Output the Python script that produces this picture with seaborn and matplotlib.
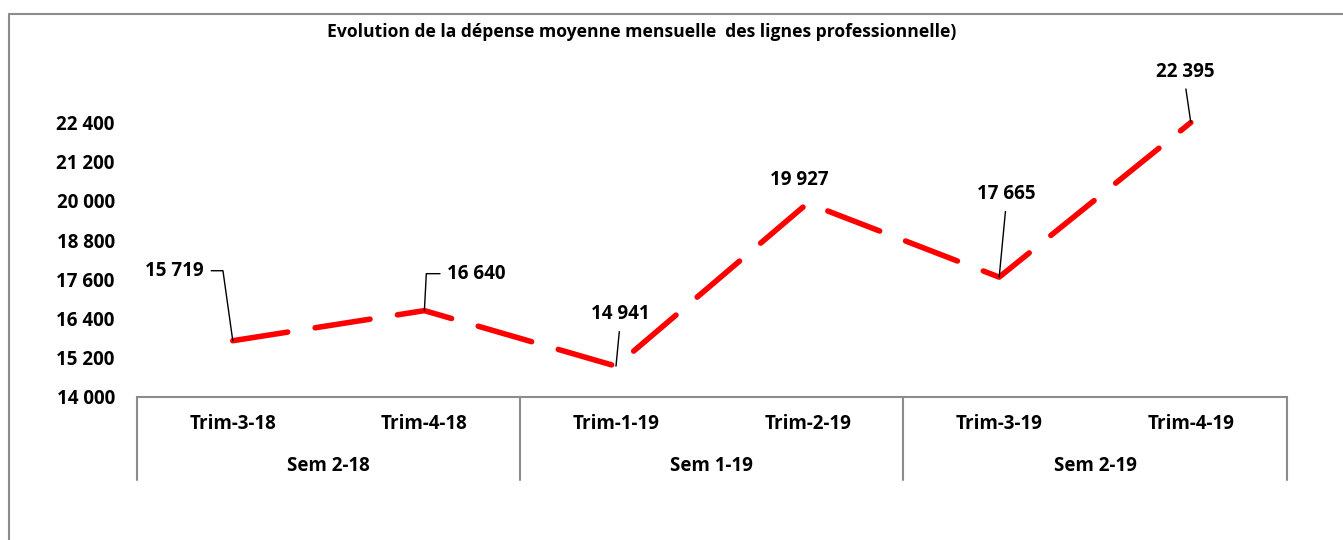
import numpy as np
import pandas as pd
import matplotlib
matplotlib.use("Agg")
import matplotlib.pyplot as plt
from matplotlib.lines import Line2D
import seaborn as sns

# ===============================
# Data
# ===============================
trimestres = ["Trim-3-18", "Trim-4-18", "Trim-1-19", "Trim-2-19", "Trim-3-19", "Trim-4-19"]
semestres = ["Sem 2-18", "Sem 1-19", "Sem 2-19"]
depense = [15719, 16640, 14941, 19927, 17665, 22395]
yticks = [14000, 15200, 16400, 17600, 18800, 20000, 21200, 22400]

title = "Evolution de la dépense moyenne mensuelle  des lignes professionnelle)"

df = pd.DataFrame({"pos": np.arange(len(trimestres)), "trim": trimestres, "val": depense})

def fmt(v):
    return f"{v:,}".replace(",", " ")

# ===============================
# Style
# ===============================
sns.set_theme(style="white")
plt.rcParams["font.family"] = ["Open Sans", "DejaVu Sans"]
plt.rcParams["font.weight"] = "bold"
plt.rcParams["text.color"] = "black"
plt.rcParams["ytick.color"] = "black"
GRAY = "#8c8c8c"
FS = 13.5

fig = plt.figure(figsize=(13.43, 5.40), dpi=100)
ax = fig.add_axes([0.102, 0.265, 0.856, 0.581])

sns.lineplot(data=df, x="pos", y="val", ax=ax, color="#ff0000", linewidth=4,
             linestyle=(0, (10, 5)), dash_capstyle="round", solid_capstyle="round")

ax.set_xlim(-0.5, len(trimestres) - 0.5)
ax.set_ylim(14000, 23600)
ax.set_yticks(yticks)
ax.set_yticklabels([fmt(t) for t in yticks], fontsize=FS, fontweight="bold")
ax.tick_params(axis="y", length=0, pad=16)
ax.set_xticks([])
ax.set_xlabel("")
ax.set_ylabel("")
for s in ["left", "right", "top"]:
    ax.spines[s].set_visible(False)
ax.spines["bottom"].set_color(GRAY)
ax.spines["bottom"].set_linewidth(1.5)

# ===============================
# Multi-level category axis
# ===============================
trans = ax.get_xaxis_transform()
for x in [-0.5, 1.5, 3.5, 5.5]:
    ax.plot([x, x], [0, -0.264], transform=trans, color=GRAY, lw=1.5, clip_on=False)
for i, t in enumerate(trimestres):
    ax.text(i, -0.086, t, transform=trans, ha="center", va="center",
            fontsize=FS, fontweight="bold")
for j, s in enumerate(semestres):
    ax.text(2 * j + 0.5, -0.22, s, transform=trans, ha="center", va="center",
            fontsize=FS, fontweight="bold")

# ===============================
# Data labels with leader lines
# ===============================
labels = [
    # (offset pts, ha, relpos, connection)
    ((-20.9, 50.4), "right", (1, 0.5), "angle,angleA=0,angleB=98,rad=0"),
    ((16.6, 26.6), "left", (0, 0.5), "angle,angleA=0,angleB=87,rad=0"),
    ((2.9, 37.4), "center", (0.5, 0), "arc3"),
    ((-5.8, 16.6), "center", None, None),
    ((5.0, 59.8), "center", (0.5, 0), "arc3"),
    ((-4.3, 36.7), "center", (0.5, 0), "arc3"),
]
for i, (off, ha, rel, conn) in enumerate(labels):
    kw = {}
    if conn is not None:
        kw["arrowprops"] = dict(arrowstyle="-", color="black", lw=1.0,
                                connectionstyle=conn, relpos=rel,
                                shrinkA=3, shrinkB=0)
    ax.annotate(fmt(depense[i]), xy=(i, depense[i]), xytext=off,
                textcoords="offset points", ha=ha, va="center",
                fontsize=FS, fontweight="bold", **kw)

# ===============================
# Title and frame
# ===============================
fig.text(0.478, 0.941, title, ha="center", va="center", fontsize=12.6, fontweight="bold")
fig.add_artist(Line2D([9 / 1343, 9 / 1343], [0, 1 - 14 / 540], color=GRAY, lw=1.5))
fig.add_artist(Line2D([9 / 1343, 1], [1 - 14 / 540, 1 - 14 / 540], color=GRAY, lw=1.5))

fig.savefig("out.png", dpi=100)
